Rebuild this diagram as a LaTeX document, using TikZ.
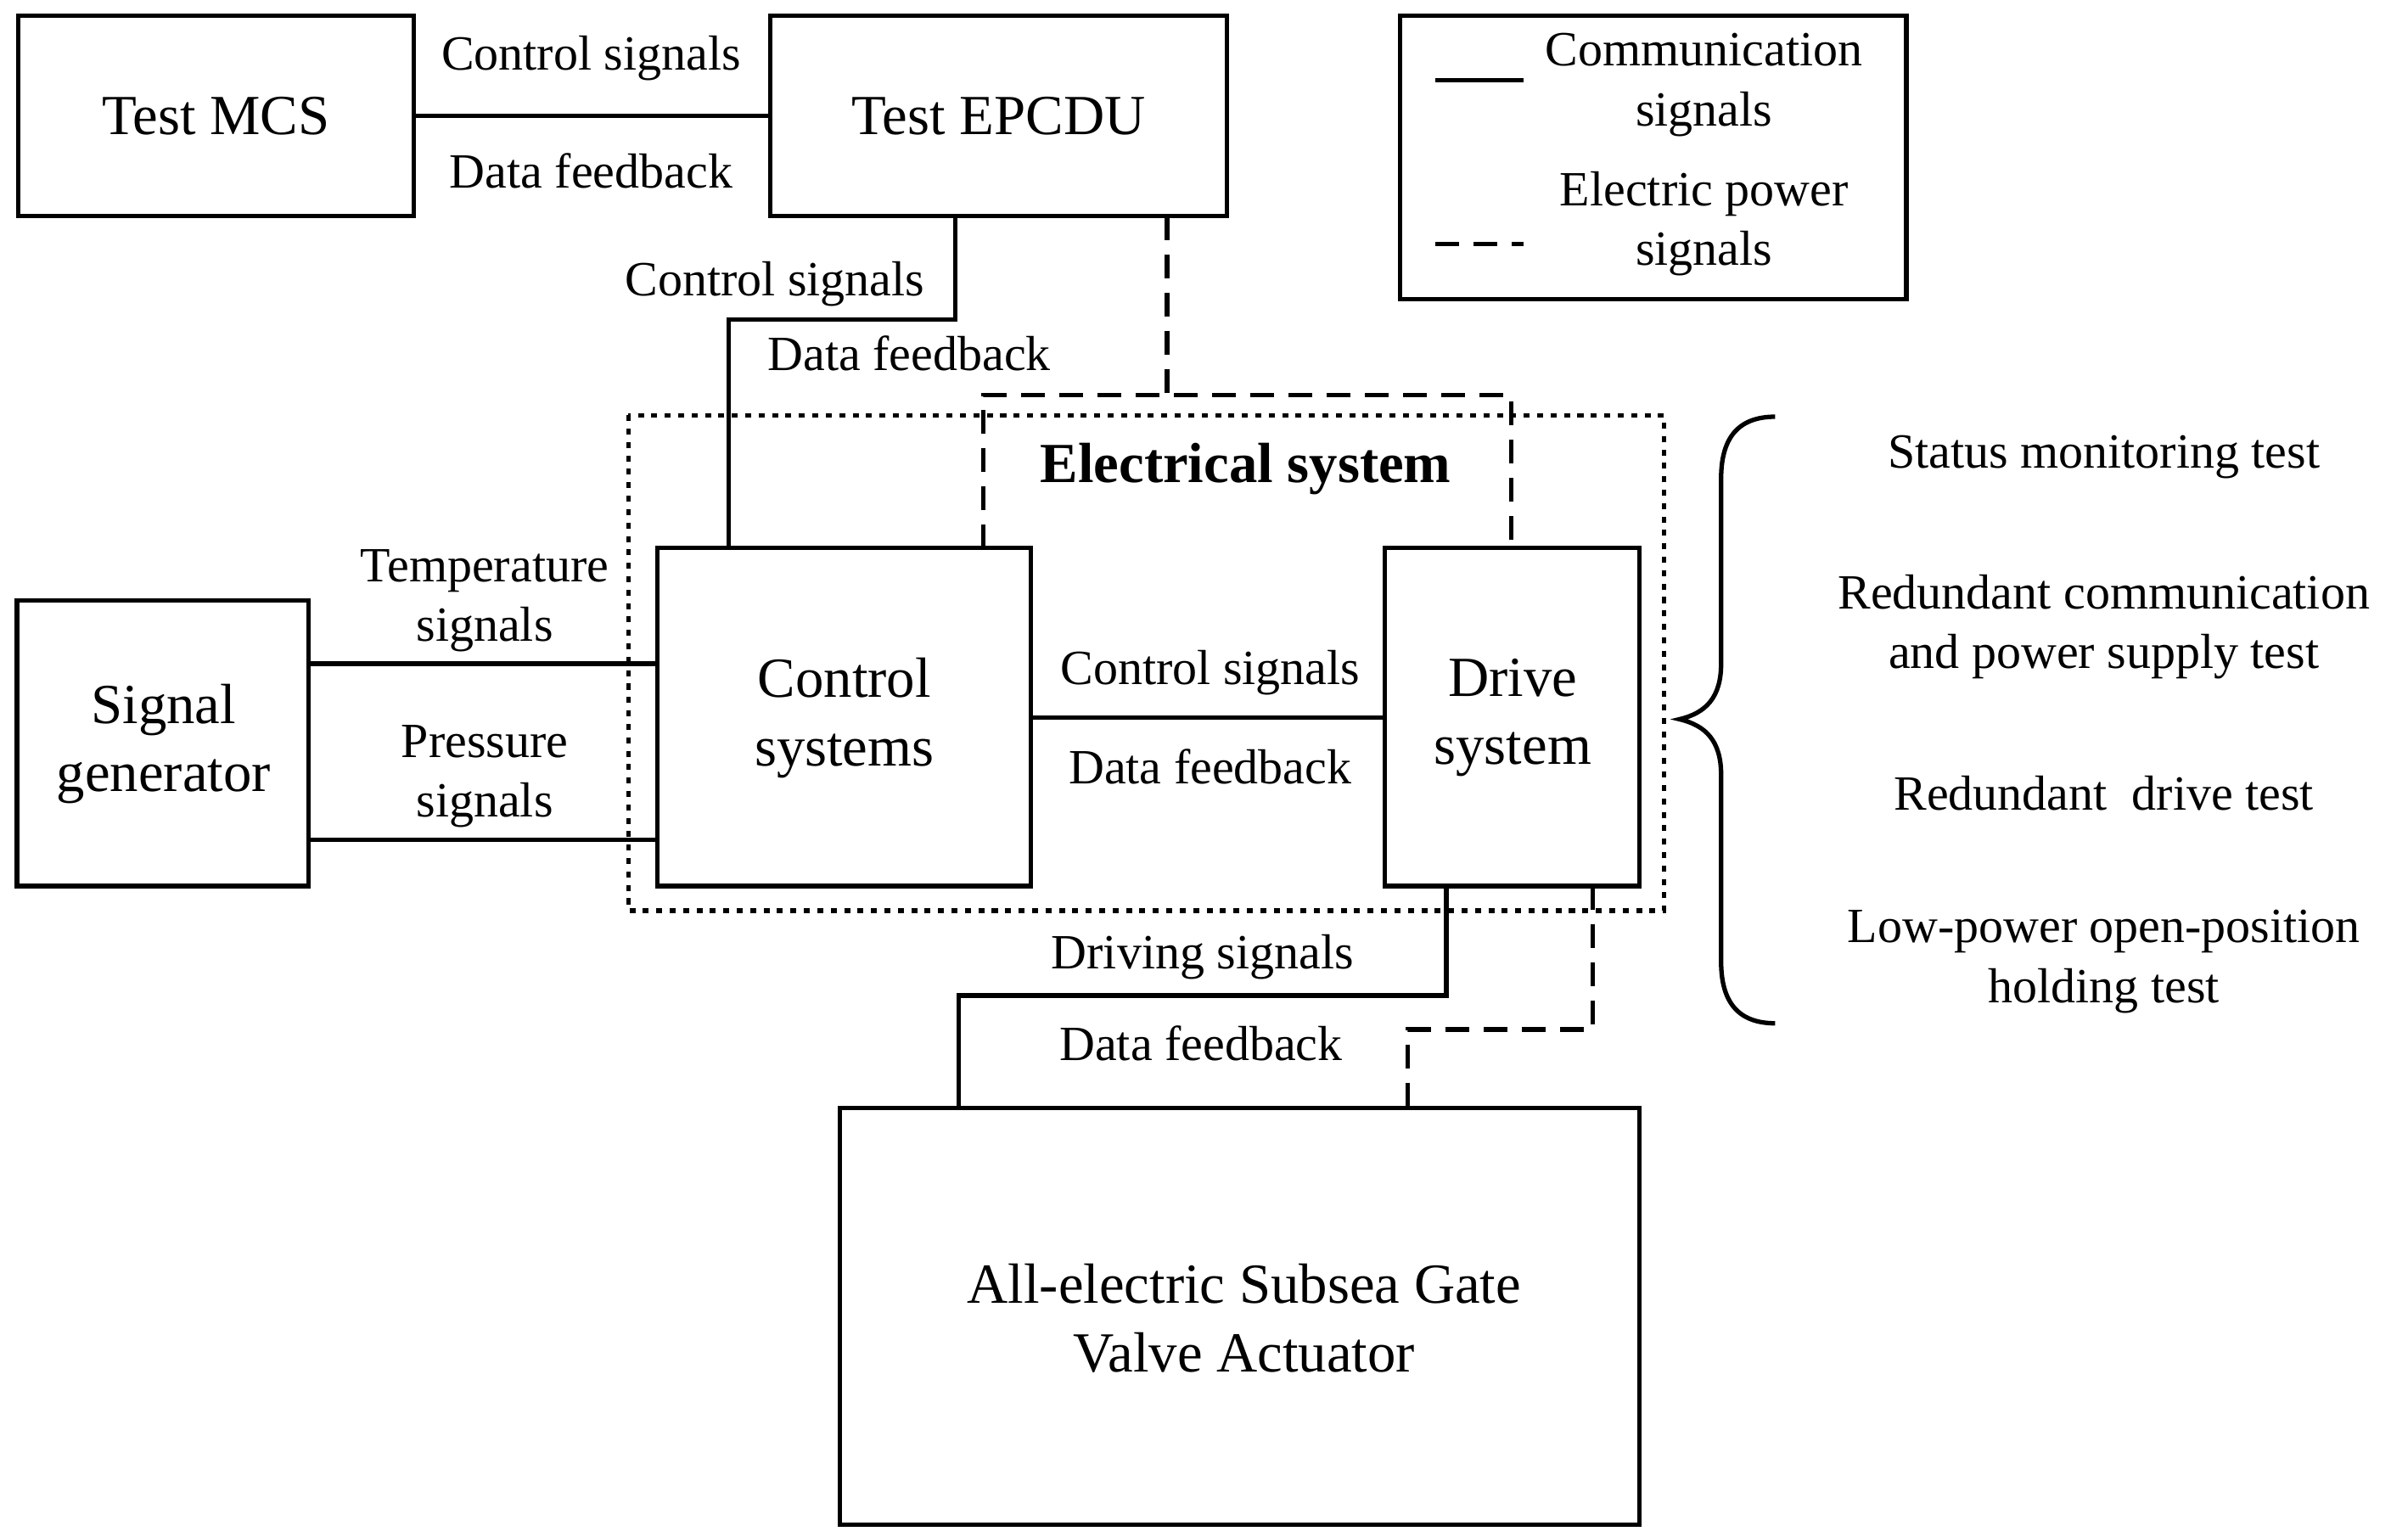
\documentclass[tikz,border=0pt]{standalone}
\usepackage{fontspec}
\setmainfont{Liberation Serif}
\begin{document}
\begin{tikzpicture}[x=0.018186cm,y=-0.018186cm,
  box/.style={draw,line width=1.5pt,inner sep=0pt},
  lbl/.style={font=\fontsize{16.5}{20}\selectfont,align=center,inner sep=0pt},
  big/.style={font=\fontsize{19}{23}\selectfont,align=center,inner sep=0pt},
  ln/.style={line width=1.5pt},
  dsh/.style={line width=1.5pt,dash pattern=on 0.28cm off 0.17cm}]
\useasboundingbox (0,0) rectangle (1560,995.8);
\draw[box] (12,10) rectangle (268,140); \node[big] (mcs) at (140,75) {Test MCS};
\coordinate (mcsE) at (268,75);
\draw[box] (499,10) rectangle (795,140); \node[big] (ep) at (647,75) {Test EPCDU};
\coordinate (epW) at (499,75);
\draw[box] (907,10) rectangle (1235,194);
\coordinate (l1a) at (930,52); \coordinate (l1b) at (987,52);
\coordinate (l2a) at (930,158); \coordinate (l2b) at (987,158);
\draw[ln] (l1a)--(l1b); \draw[dsh] (l2a)--(l2b);
\node[lbl] (lg1) at (1104,55) {Communication\\signals};
\node[lbl] (lg2) at (1104,145) {Electric power\\signals};
\draw[ln] (mcsE)--(epW);
\node[lbl] (t1) at (383,38) {Control signals};
\node[lbl] (t2) at (383,111) {Data feedback};
\draw[box] (11,389) rectangle (200,574); \node[big] (sg) at (106,482) {Signal\\generator};
\draw[box] (426,355) rectangle (668,574); \node[big] (cs) at (547,465) {Control\\systems};
\draw[box] (897,355) rectangle (1062,574); \node[big] (ds) at (980,465) {Drive\\system};
\draw[line width=1.5pt,dash pattern=on 2pt off 2.5pt] (407,269) rectangle (1078,590);
\node[big,font=\fontsize{19}{23}\selectfont\bfseries] (es) at (807,304) {Electrical system};
% EPCDU - control
\coordinate (a1) at (619,140); \coordinate (a2) at (619,207); \coordinate (a3) at (472,207); \coordinate (a4) at (472,355);
\draw[ln] (a1)--(a2)--(a3)--(a4);
\node[lbl] (t3) at (502,184) {Control signals};
\node[lbl] (t4) at (589,229) {Data feedback};
\coordinate (b1) at (756,140); \coordinate (b2) at (756,256); \coordinate (b3) at (637,256); \coordinate (b4) at (637,355);
\coordinate (b5) at (979,256); \coordinate (b6) at (979,355);
\draw[dsh] (b1)--(b2); \draw[dsh] (b4)--(b3)--(b5)--(b6);
% signal gen
\draw[ln] (200,430)--(426,430); \draw[ln] (200,544)--(426,544);
\node[lbl] (t5) at (314,389) {Temperature\\signals};
\node[lbl] (t6) at (314,503) {Pressure\\signals};
\draw[ln] (668,465)--(897,465);
\node[lbl] (t7) at (784,436) {Control signals};
\node[lbl] (t8) at (784,497) {Data feedback};
% drive - actuator
\draw[box] (544,718) rectangle (1062,988); \node[big] (act) at (806,854) {All-electric Subsea Gate\\Valve Actuator};
\coordinate (c1) at (937,574); \coordinate (c2) at (937,645); \coordinate (c3) at (621,645); \coordinate (c4) at (621,718);
\draw[ln] (c1)--(c2)--(c3)--(c4);
\coordinate (d1) at (1032,574); \coordinate (d2) at (1032,667); \coordinate (d3) at (912,667); \coordinate (d4) at (912,718);
\draw[dsh] (d1)--(d2)--(d3)--(d4);
\node[lbl] (t9) at (779,620) {Driving signals};
\node[lbl] (t10) at (778,676) {Data feedback};
% brace
\draw[line width=1.5pt] (1150,270) .. controls (1125,270) and (1115,285) .. (1115,310) -- (1115,430)
  .. controls (1115,452) and (1105,462) .. (1088,466)
  .. controls (1105,470) and (1115,480) .. (1115,502) -- (1115,623)
  .. controls (1115,648) and (1125,663) .. (1150,663);
\node[lbl] (r1) at (1363,296) {Status monitoring test};
\node[lbl] (r2) at (1363,406) {Redundant communication\\and power supply test};
\node[lbl] (r3) at (1363,514) {Redundant\ \ drive test};
\node[lbl] (r4) at (1363,623) {Low-power open-position\\holding test};
\end{tikzpicture}
\end{document}
